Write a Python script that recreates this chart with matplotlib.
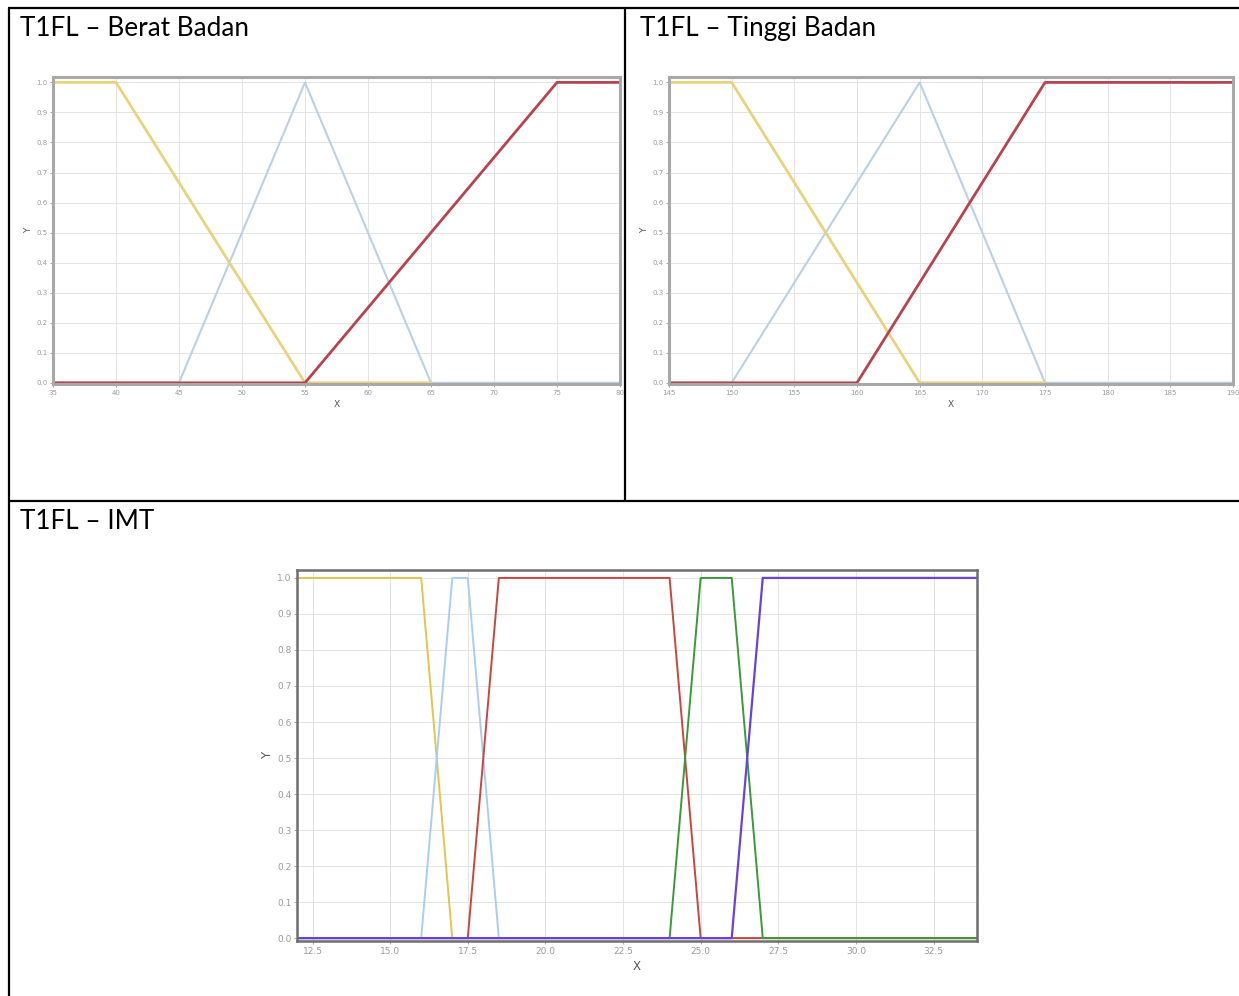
import matplotlib
matplotlib.use("Agg")
import matplotlib.pyplot as plt
from matplotlib.lines import Line2D

W, H = 1239, 996

# ---------------- data ----------------
titles = ["T1FL \u2013 Berat Badan", "T1FL \u2013 Tinggi Badan", "T1FL \u2013 IMT"]

# Berat Badan
bb_xticks = [35, 40, 45, 50, 55, 60, 65, 70, 75, 80]
bb_yellow_x = [35, 40, 55, 65]
bb_yellow_y = [1, 1, 0, 0]
bb_blue_x = [35, 45, 55, 65, 80]
bb_blue_y = [0, 0, 1, 0, 0]
bb_red_x = [35, 55, 75, 80]
bb_red_y = [0, 0, 1, 1]

# Tinggi Badan
tb_xticks = [145, 150, 155, 160, 165, 170, 175, 180, 185, 190]
tb_yellow_x = [145, 150, 165, 175]
tb_yellow_y = [1, 1, 0, 0]
tb_blue_x = [145, 150, 165, 175, 190]
tb_blue_y = [0, 0, 1, 0, 0]
tb_red_x = [145, 160, 175, 190]
tb_red_y = [0, 0, 1, 1]

# IMT
imt_xticks = [12.5, 15.0, 17.5, 20.0, 22.5, 25.0, 27.5, 30.0, 32.5]
imt_yellow_x = [12, 16, 17, 34]
imt_yellow_y = [1, 1, 0, 0]
imt_blue_x = [12, 16, 17, 17.5, 18.5, 34]
imt_blue_y = [0, 0, 1, 1, 0, 0]
imt_red_x = [12, 17.5, 18.5, 24, 25, 34]
imt_red_y = [0, 0, 1, 1, 0, 0]
imt_green_x = [12, 24, 25, 26, 27, 34]
imt_green_y = [0, 0, 1, 1, 0, 0]
imt_purple_x = [12, 26, 27, 34]
imt_purple_y = [0, 0, 1, 1]

yticks = [0.0, 0.1, 0.2, 0.3, 0.4, 0.5, 0.6, 0.7, 0.8, 0.9, 1.0]

# ---------------- layout ----------------
fig = plt.figure(figsize=(W / 100, H / 100), dpi=100)
fig.patch.set_facecolor("white")


def rect(l, t, r, b):
    return [l / W, 1 - b / H, (r - l) / W, (b - t) / H]


# table borders
overlay = fig.add_axes([0, 0, 1, 1])
overlay.set_xlim(0, W)
overlay.set_ylim(H, 0)
overlay.axis("off")
lw_tab = 1.6
for xs, ys in [([8.5, 8.5], [7.5, 996]), ([8, 1239], [7.5, 7.5]),
               ([625, 625], [7.5, 501]), ([8, 1239], [501, 501])]:
    overlay.add_line(Line2D(xs, ys, color="black", lw=lw_tab, solid_capstyle="butt"))

title_font = dict(family=["Lato", "DejaVu Sans"], fontsize=18.8, color="black", va="center", ha="left")
overlay.text(20, 28, titles[0], **title_font)
overlay.text(640, 28, titles[1], **title_font)
overlay.text(20, 521, titles[2], **title_font)


def style_axes(ax, xlim, ylim, xticks, xfmt, spine_color, spine_lw, tick_fs, lab_fs, xlab_pad, ylab_pad):
    ax.set_xlim(*xlim)
    ax.set_ylim(*ylim)
    ax.set_xticks(xticks)
    ax.set_xticklabels([xfmt.format(v) for v in xticks])
    ax.set_yticks(yticks)
    ax.set_yticklabels(["{:.1f}".format(v) for v in yticks])
    ax.grid(True, color="#e4e4e4", lw=0.7)
    ax.set_axisbelow(True)
    for s in ax.spines.values():
        s.set_color(spine_color)
        s.set_linewidth(spine_lw)
    ax.tick_params(axis="both", colors="#9a9a9a", labelsize=tick_fs, length=2, width=0.6, pad=2)
    ax.set_xlabel("X", fontsize=lab_fs, color="#555555", labelpad=xlab_pad)
    ax.set_ylabel("Y", fontsize=lab_fs, color="#555555", labelpad=ylab_pad, rotation=90)


# colours
c_yel = "#e8d27a"
c_blu = "#b9d0e6"
c_red = "#b8434f"

# Chart 1: Berat Badan
ax1 = fig.add_axes(rect(53, 77, 620, 384))
ax1.plot(bb_blue_x, bb_blue_y, color=c_blu, lw=1.5)
ax1.plot(bb_yellow_x, bb_yellow_y, color=c_yel, lw=2.0)
ax1.plot(bb_red_x, bb_red_y, color=c_red, lw=2.0)
style_axes(ax1, (35, 80), (-0.004, 1.018), bb_xticks, "{:d}", "#a8a8a8", 2.2, 5, 6.5, 3, 2)

# Chart 2: Tinggi Badan
ax2 = fig.add_axes(rect(669, 77, 1233, 384))
ax2.plot(tb_blue_x, tb_blue_y, color=c_blu, lw=1.5)
ax2.plot(tb_yellow_x, tb_yellow_y, color=c_yel, lw=2.0)
ax2.plot(tb_red_x, tb_red_y, color=c_red, lw=2.0)
style_axes(ax2, (145, 190), (-0.004, 1.018), tb_xticks, "{:d}", "#a8a8a8", 2.2, 5, 6.5, 3, 2)

# Chart 3: IMT
ax3 = fig.add_axes(rect(297, 570, 977, 941))
ax3.plot(imt_yellow_x, imt_yellow_y, color="#e2c54a", lw=1.4)
ax3.plot(imt_blue_x, imt_blue_y, color="#a9cdf0", lw=1.4)
ax3.plot(imt_red_x, imt_red_y, color="#cc4440", lw=1.4)
ax3.plot(imt_green_x, imt_green_y, color="#3a9a3a", lw=1.4)
ax3.plot(imt_purple_x, imt_purple_y, color="#6a40e0", lw=1.6)
style_axes(ax3, (12, 33.9), (-0.008, 1.022), imt_xticks, "{:.1f}", "#6e6e6e", 1.8, 6.5, 8.5, 3, 2)

fig.savefig("out.png", dpi=100, facecolor="white")
